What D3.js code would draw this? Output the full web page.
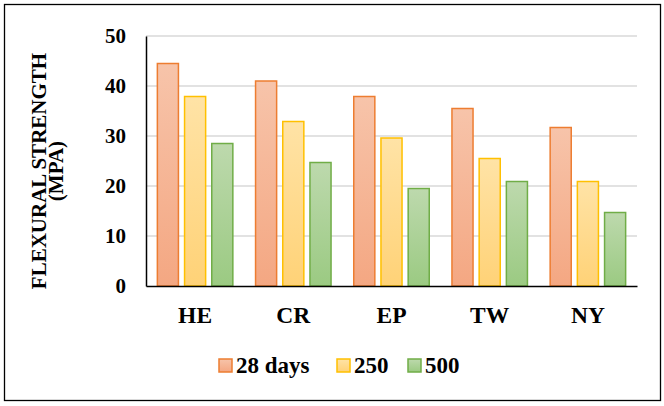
<!DOCTYPE html>
<html>
<head>
<meta charset="utf-8">
<script src="https://cdn.jsdelivr.net/npm/d3@7.9.0/dist/d3.min.js"></script>
<style>
  body { margin: 0; background: #fff; }
  svg text { font-family: "Liberation Serif", "Times New Roman", serif; font-weight: bold; fill: #000; }
</style>
</head>
<body>
<svg id="chart" width="664" height="406"></svg>
<script>
// data
const categories = ['HE', 'CR', 'EP', 'TW', 'NY'];
const seriesNames = ['28 days', '250', '500'];
const days28 = [44.5, 41.0, 37.9, 35.5, 31.7];
const cycles250 = [37.9, 32.9, 29.6, 25.5, 20.9];
const cycles500 = [28.5, 24.7, 19.5, 20.9, 14.7];
const yTicks = [0, 10, 20, 30, 40, 50];

const seriesValues = [days28, cycles250, cycles500];
const colors = [
  { stroke: '#ED7D31', top: '#F7C4AA', bottom: '#F4A782' },
  { stroke: '#FFC000', top: '#FFE3A6', bottom: '#FFD277' },
  { stroke: '#70AD47', top: '#BDD9AD', bottom: '#9BCA82' }
];

const svg = d3.select('#chart');
const plotLeft = 146, plotRight = 637, plotTop = 36, plotBottom = 286;

// outer frame
svg.append('rect')
  .attr('x', 4.5).attr('y', 4.5)
  .attr('width', 656).attr('height', 396)
  .attr('fill', 'none').attr('stroke', '#000').attr('stroke-width', 1.3);

// gradients for bars
const defs = svg.append('defs');
colors.forEach((c, i) => {
  const g = defs.append('linearGradient')
    .attr('id', 'grad' + i)
    .attr('x1', 0).attr('y1', 0).attr('x2', 0).attr('y2', 1);
  g.append('stop').attr('offset', '0%').attr('stop-color', c.top);
  g.append('stop').attr('offset', '100%').attr('stop-color', c.bottom);
});

const y = d3.scaleLinear().domain([0, 50]).range([plotBottom, plotTop]);
const x0 = d3.scaleBand().domain(categories).range([plotLeft, plotRight])
  .paddingInner(0.216).paddingOuter(0.108);
const x1 = d3.scaleBand().domain(seriesNames).range([0, x0.bandwidth()])
  .paddingInner(0.17);

// gridlines
svg.append('g')
  .selectAll('line')
  .data(yTicks.filter(t => t > 0))
  .enter()
  .append('line')
  .attr('x1', plotLeft).attr('x2', plotRight)
  .attr('y1', d => y(d)).attr('y2', d => y(d))
  .attr('stroke', '#d9d9d9').attr('stroke-width', 1.6);

// y axis
const yAxis = svg.append('g')
  .attr('transform', `translate(${plotLeft},0)`)
  .call(d3.axisLeft(y).tickValues(yTicks).tickSize(0).tickPadding(20));
yAxis.select('.domain').attr('stroke', '#000').attr('stroke-width', 1.5);
yAxis.selectAll('text').attr('font-size', 21).style('font-family', '"Liberation Serif", serif');

// bars
const groups = svg.append('g')
  .selectAll('g')
  .data(categories)
  .enter()
  .append('g')
  .attr('transform', d => `translate(${x0(d)},0)`);

groups.selectAll('rect')
  .data((d, ci) => seriesNames.map((s, si) => ({ s, si, v: seriesValues[si][ci] })))
  .enter()
  .append('rect')
  .attr('x', d => x1(d.s) + 0.75)
  .attr('width', x1.bandwidth() - 1.5)
  .attr('y', d => y(d.v))
  .attr('height', d => y(0) - y(d.v))
  .attr('fill', d => `url(#grad${d.si})`)
  .attr('stroke', d => colors[d.si].stroke)
  .attr('stroke-width', 1.5);

// x axis
const xAxis = svg.append('g')
  .attr('transform', `translate(0,${plotBottom})`)
  .call(d3.axisBottom(x0).tickSize(0).tickPadding(20));
xAxis.select('.domain').attr('stroke', '#000').attr('stroke-width', 1.5);
xAxis.selectAll('text').attr('font-size', 23.5).style('font-family', '"Liberation Serif", serif');

// y title
const title = svg.append('text')
  .attr('transform', 'translate(46,171) rotate(-90)')
  .attr('text-anchor', 'middle')
  .attr('font-size', 21);
title.append('tspan').attr('x', 0).attr('dy', 0).text('FLEXURAL STRENGTH');
title.append('tspan').attr('x', 0).attr('dy', 17).text('(MPA)');

// legend
const legendX = [219, 337, 408];
const legend = svg.append('g')
  .selectAll('g')
  .data(seriesNames)
  .enter()
  .append('g')
  .attr('transform', (d, i) => `translate(${legendX[i]},359)`);
legend.append('rect')
  .attr('width', 13).attr('height', 13)
  .attr('fill', (d, i) => `url(#grad${i})`)
  .attr('stroke', (d, i) => colors[i].stroke)
  .attr('stroke-width', 1.5);
legend.append('text')
  .attr('x', 17).attr('y', 14)
  .attr('font-size', 23)
  .text(d => d);
</script>
</body>
</html>
